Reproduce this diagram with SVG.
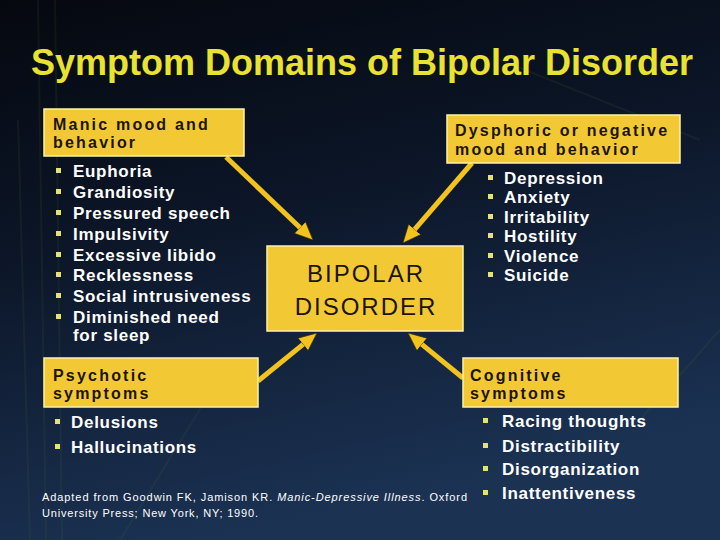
<svg xmlns="http://www.w3.org/2000/svg" width="720" height="540" viewBox="0 0 720 540">
<defs>
<linearGradient id="bg" x1="0" y1="0" x2="0.3" y2="1">
<stop offset="0" stop-color="#05080f"/>
<stop offset="0.45" stop-color="#0c1628"/>
<stop offset="1" stop-color="#1b3253"/>
</linearGradient>
<marker id="ah" markerUnits="userSpaceOnUse" markerWidth="20" markerHeight="18" refX="6" refY="8" orient="auto">
<path d="M0,0 L18,8 L0,16 z" fill="#f2c21e" stroke="#3a2a00" stroke-width="0.6"/>
</marker>
<style>
.title{font-family:"Liberation Sans",Arial,sans-serif;font-weight:bold;font-size:36px;fill:#e9e230}
.box{fill:#f2c934;stroke:#fff2a8;stroke-width:1.5}
.lab{font-family:"Liberation Sans",Arial,sans-serif;font-weight:bold;font-size:16px;fill:#1c1408;letter-spacing:2.2px}
.big{font-family:"Liberation Sans",Arial,sans-serif;font-size:24px;fill:#1c1408;letter-spacing:2px;text-anchor:middle}
.item{font-family:"Liberation Sans",Arial,sans-serif;font-weight:bold;font-size:17px;fill:#ffffff;letter-spacing:0.7px}
.bul{fill:#e6e27a}
.cite{font-family:"Liberation Sans",Arial,sans-serif;font-size:11px;fill:#ffffff}
.conn{stroke:#f2c21e;stroke-width:5;fill:none;marker-end:url(#ah)}
.streak{stroke:#4a7a3a;stroke-width:2;fill:none;opacity:0.12}
</style>
</defs>
<rect width="720" height="540" fill="url(#bg)"/>
<g id="background-streaks">
<path class="streak" d="M38,0 L46,540"/>
<path class="streak" d="M55,0 L62,540"/>
<path class="streak" d="M18,120 L30,540"/>
<path class="streak" d="M120,540 L230,360"/>
<path class="streak" d="M500,60 L700,140"/>
<path class="streak" d="M640,420 L720,330"/>
</g>
<text class="title" x="31" y="75">Symptom Domains of Bipolar Disorder</text>
<g id="connectors">
<line class="conn" x1="226" y1="157" x2="304.3" y2="231.7"/>
<line class="conn" x1="472" y1="163" x2="410.8" y2="233.9"/>
<line class="conn" x1="258" y1="381" x2="307.7" y2="340.6"/>
<line class="conn" x1="463" y1="378" x2="417.3" y2="340.6"/>
</g>
<g id="bipolar">
<rect class="box" x="267" y="246" width="196" height="85"/>
<text class="big" x="366" y="282">BIPOLAR</text>
<text class="big" x="366" y="315">DISORDER</text>
</g>
<g id="manic">
<rect class="box" x="44" y="109" width="200" height="47"/>
<text class="lab" x="53" y="130">Manic mood and</text>
<text class="lab" x="53" y="148">behavior</text>
<g class="bul">
<rect x="56" y="168" width="5" height="5"/>
<rect x="56" y="189" width="5" height="5"/>
<rect x="56" y="210" width="5" height="5"/>
<rect x="56" y="231" width="5" height="5"/>
<rect x="56" y="252" width="5" height="5"/>
<rect x="56" y="272" width="5" height="5"/>
<rect x="56" y="293" width="5" height="5"/>
<rect x="56" y="314" width="5" height="5"/>
</g>
<text class="item" x="73" y="177">Euphoria</text>
<text class="item" x="73" y="198">Grandiosity</text>
<text class="item" x="73" y="219">Pressured speech</text>
<text class="item" x="73" y="240">Impulsivity</text>
<text class="item" x="73" y="261">Excessive libido</text>
<text class="item" x="73" y="281">Recklessness</text>
<text class="item" x="73" y="302">Social intrusiveness</text>
<text class="item" x="73" y="323">Diminished need</text>
<text class="item" x="73" y="341">for sleep</text>
</g>
<g id="dysphoric">
<rect class="box" x="447" y="115" width="233" height="48"/>
<text class="lab" x="455" y="136">Dysphoric or negative</text>
<text class="lab" x="455" y="155">mood and behavior</text>
<g class="bul">
<rect x="488" y="175" width="5" height="5"/>
<rect x="488" y="194" width="5" height="5"/>
<rect x="488" y="214" width="5" height="5"/>
<rect x="488" y="233" width="5" height="5"/>
<rect x="488" y="253" width="5" height="5"/>
<rect x="488" y="272" width="5" height="5"/>
</g>
<text class="item" x="504" y="184">Depression</text>
<text class="item" x="504" y="203">Anxiety</text>
<text class="item" x="504" y="223">Irritability</text>
<text class="item" x="504" y="242">Hostility</text>
<text class="item" x="504" y="262">Violence</text>
<text class="item" x="504" y="281">Suicide</text>
</g>
<g id="psychotic">
<rect class="box" x="44" y="358" width="214" height="49"/>
<text class="lab" x="53" y="381">Psychotic</text>
<text class="lab" x="53" y="399">symptoms</text>
<g class="bul">
<rect x="55" y="419" width="5" height="5"/>
<rect x="55" y="444" width="5" height="5"/>
</g>
<text class="item" x="71" y="428">Delusions</text>
<text class="item" x="71" y="453">Hallucinations</text>
</g>
<g id="cognitive">
<rect class="box" x="463" y="358" width="215" height="49"/>
<text class="lab" x="470" y="381">Cognitive</text>
<text class="lab" x="470" y="399">symptoms</text>
<g class="bul">
<rect x="483" y="418" width="5" height="5"/>
<rect x="483" y="443" width="5" height="5"/>
<rect x="483" y="466" width="5" height="5"/>
<rect x="483" y="490" width="5" height="5"/>
</g>
<text class="item" x="502" y="427">Racing thoughts</text>
<text class="item" x="502" y="452">Distractibility</text>
<text class="item" x="502" y="475">Disorganization</text>
<text class="item" x="502" y="499">Inattentiveness</text>
</g>
<g id="citation">
<text class="cite" x="42" y="501" textLength="425" lengthAdjust="spacing">Adapted from Goodwin FK, Jamison KR. <tspan font-style="italic">Manic-Depressive Illness</tspan>. Oxford</text>
<text class="cite" x="42" y="517" textLength="216" lengthAdjust="spacing">University Press; New York, NY; 1990.</text>
</g>
</svg>
